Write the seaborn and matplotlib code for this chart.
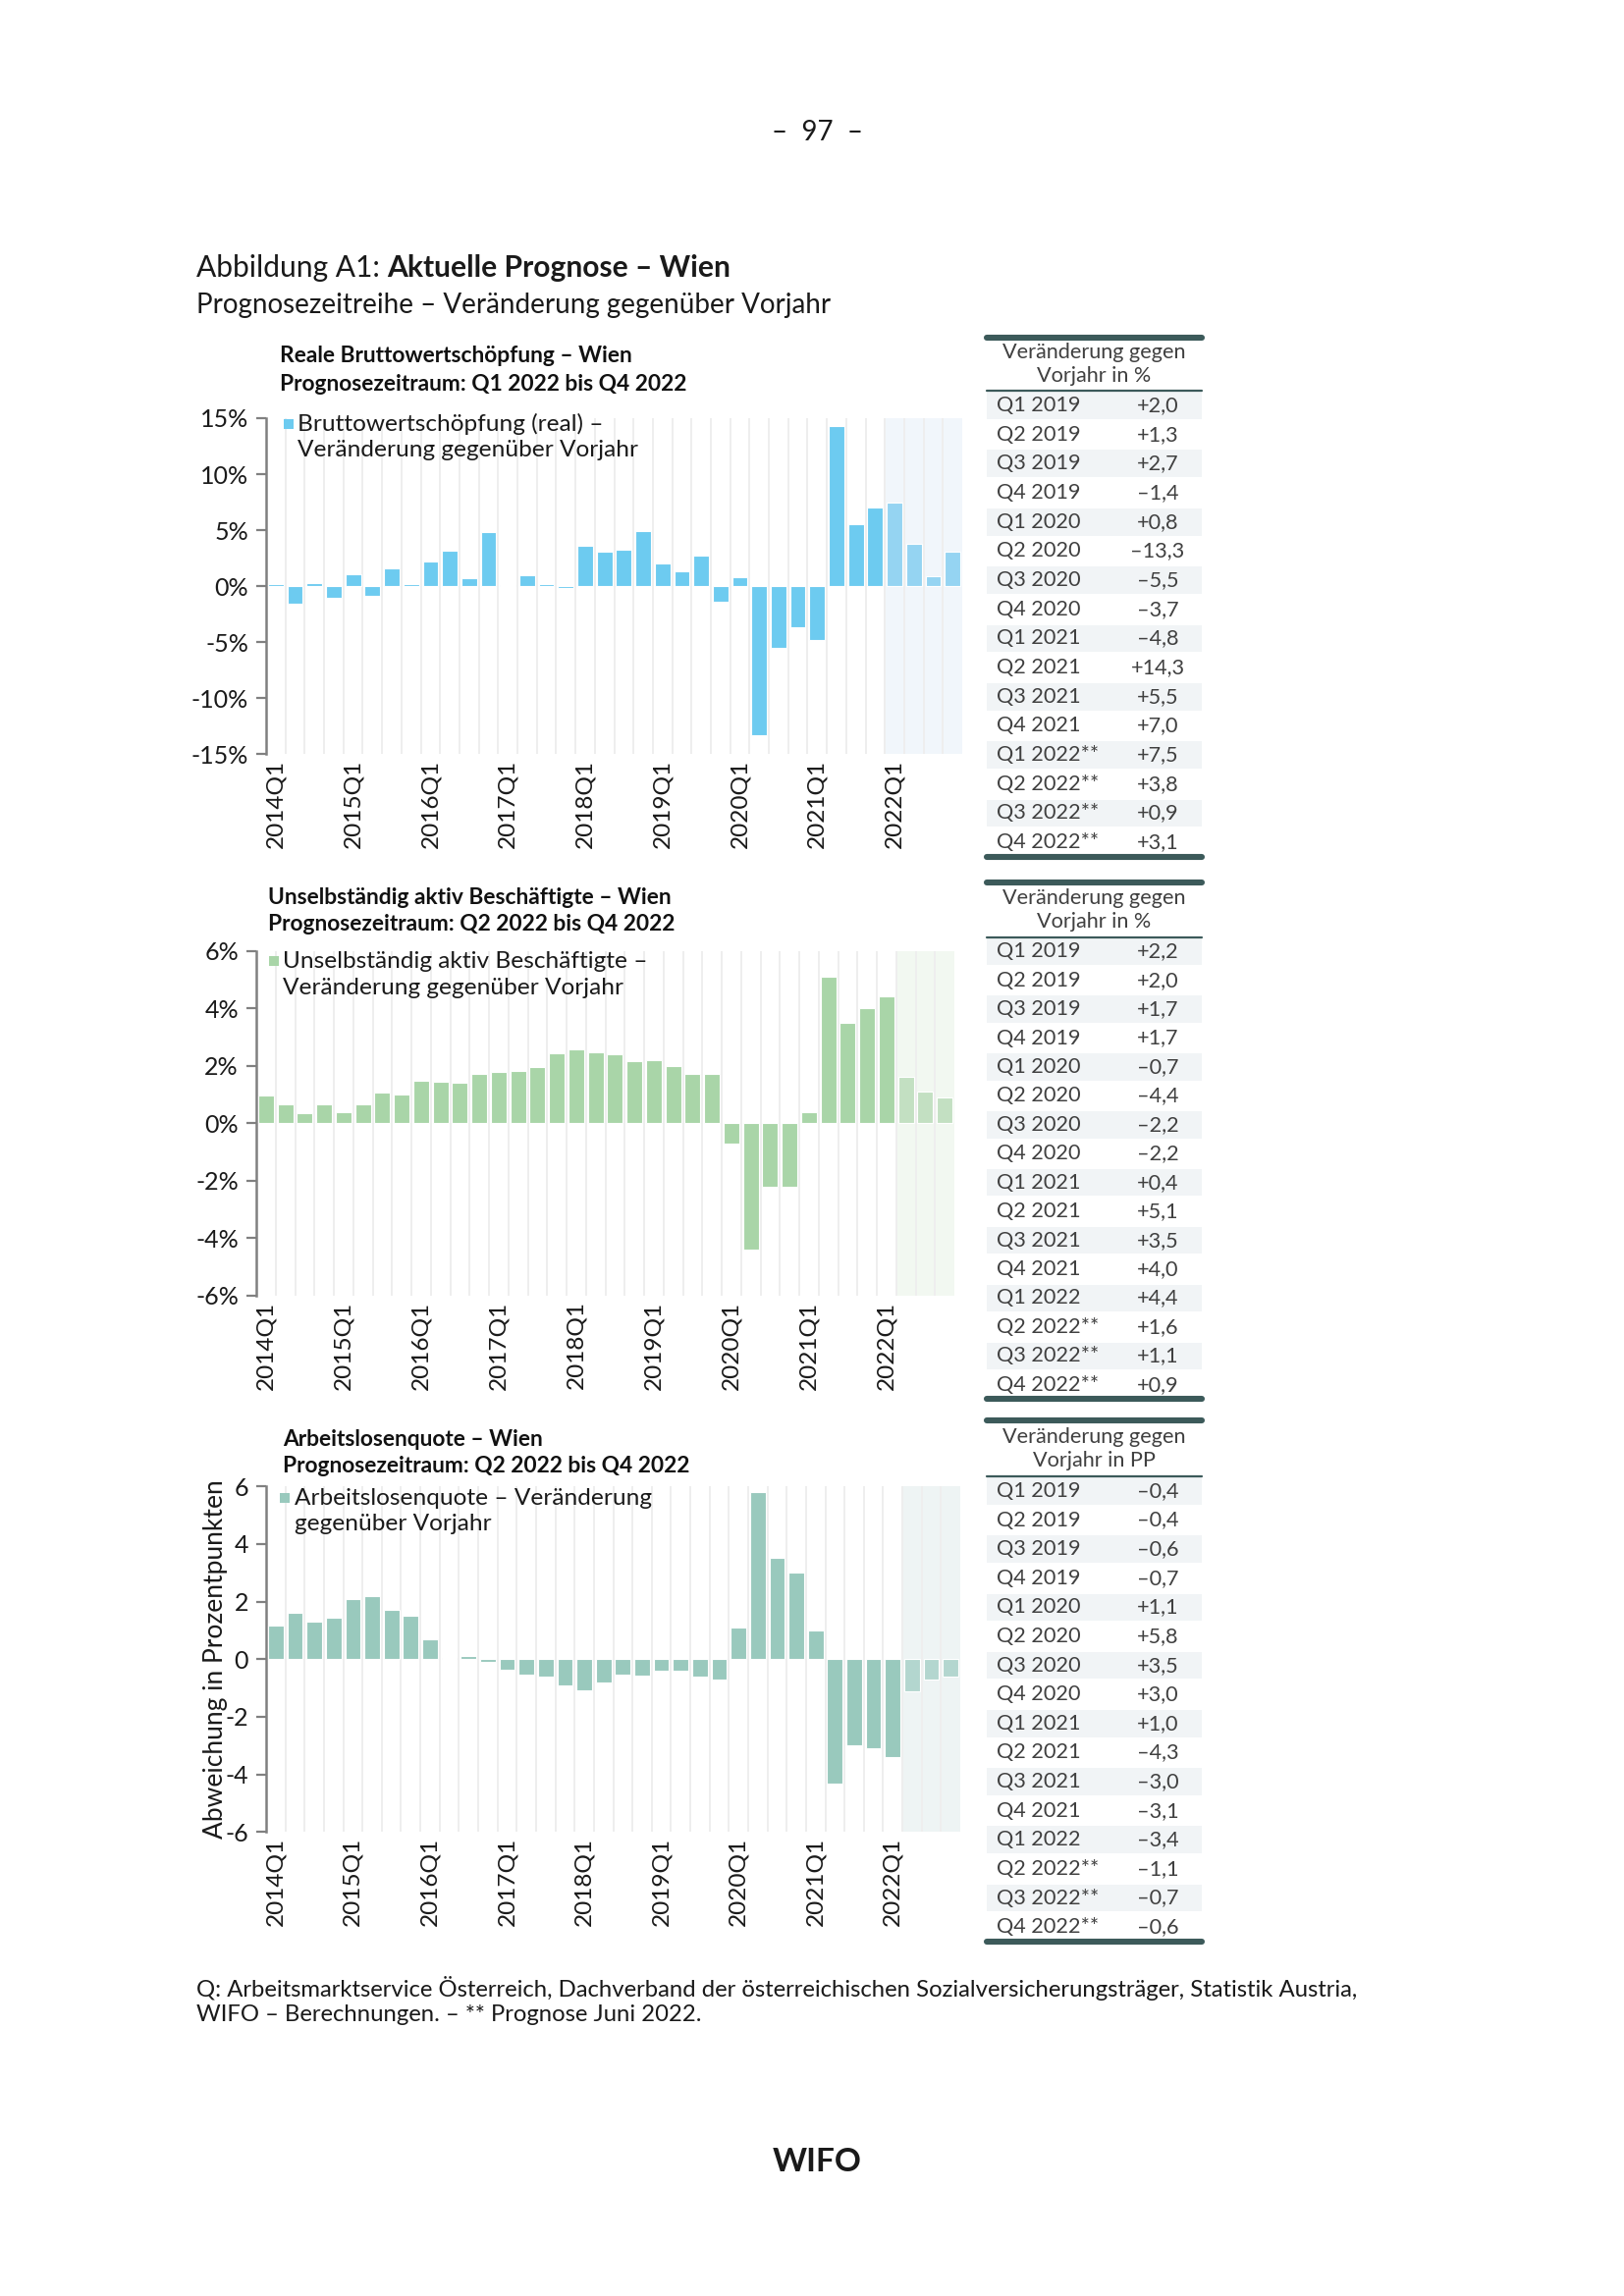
import matplotlib
matplotlib.use("Agg")
import matplotlib.pyplot as plt
import seaborn as sns
import numpy as np
import pandas as pd
from matplotlib.patches import Rectangle
from matplotlib.lines import Line2D

# --- data -----------------------------------------------------------------
quarters = [f"{y}Q{q}" for y in range(2014, 2023) for q in range(1, 5)]
tick_labels = ["2014Q1", "2015Q1", "2016Q1", "2017Q1", "2018Q1",
               "2019Q1", "2020Q1", "2021Q1", "2022Q1"]

bws = [0.2, -1.6, 0.3, -1.0, 1.1, -0.85, 1.6, 0.15,
       2.2, 3.2, 0.7, 4.8, 0.1, 0.95, 0.2, -0.2,
       3.6, 3.1, 3.3, 4.9, 2.0, 1.3, 2.7, -1.4,
       0.8, -13.3, -5.5, -3.7, -4.8, 14.3, 5.5, 7.0,
       7.5, 3.8, 0.9, 3.1]

besch = [0.97, 0.66, 0.36, 0.67, 0.37, 0.67, 1.08, 1.0,
         1.47, 1.44, 1.4, 1.72, 1.8, 1.82, 1.94, 2.42,
         2.58, 2.48, 2.4, 2.15, 2.2, 2.0, 1.7, 1.7,
         -0.7, -4.4, -2.2, -2.2, 0.4, 5.1, 3.5, 4.0,
         4.4, 1.6, 1.1, 0.9]

alq = [1.17, 1.6, 1.3, 1.45, 2.1, 2.18, 1.7, 1.52,
       0.7, 0.04, 0.1, -0.1, -0.37, -0.55, -0.6, -0.9,
       -1.07, -0.82, -0.55, -0.57, -0.4, -0.4, -0.6, -0.7,
       1.1, 5.8, 3.5, 3.0, 1.0, -4.3, -3.0, -3.1,
       -3.4, -1.1, -0.7, -0.6]

table_rows = ["Q1 2019", "Q2 2019", "Q3 2019", "Q4 2019",
              "Q1 2020", "Q2 2020", "Q3 2020", "Q4 2020",
              "Q1 2021", "Q2 2021", "Q3 2021", "Q4 2021",
              "Q1 2022", "Q2 2022", "Q3 2022", "Q4 2022"]

# --- style ----------------------------------------------------------------
sns.set_theme(style="white")
plt.rcParams["font.family"] = ["Lato", "DejaVu Sans"]

W, H = 1654, 2339
fig = plt.figure(figsize=(W / 200, H / 200), dpi=200)
fig.patch.set_facecolor("white")
TXT = "#1a1a1a"


def fx(px):
    return px / W


def fy(py):
    # small vertical squeeze so the lower blocks sit where the page has them
    py = py - (py - 200) * 0.0045
    return 1 - py / H


def add_axes(left, right, top, bottom):
    return fig.add_axes([fx(left), fy(bottom), fx(right - left), fy(top) - fy(bottom)])


def bar_chart(ax, values, first_fc, col, col_fc, shade, ylim, yticks, ylabels):
    n = len(values)
    colors = [col if i < first_fc else col_fc for i in range(n)]
    df = pd.DataFrame({"quarter": quarters, "value": values})
    ax.axvspan(first_fc - 0.5, n - 0.5, color=shade, lw=0, zorder=0)
    sns.barplot(data=df, x="quarter", y="value", hue="quarter", palette=colors,
                legend=False, saturation=1, width=0.8, ax=ax,
                edgecolor="white", linewidth=0.4, zorder=3)
    ax.set_xlim(-0.5, n - 0.5)
    ax.set_ylim(*ylim)
    ax.set_xticks(np.arange(0.5, n - 1, 1), minor=True)
    ax.grid(axis="x", which="minor", color="#EEEEEE", lw=0.7, zorder=1)
    ax.grid(axis="y", visible=False)
    ax.set_xticks([quarters.index(t) for t in tick_labels])
    ax.set_xticklabels(tick_labels, rotation=90, fontsize=8.8, color=TXT)
    ax.set_yticks(yticks)
    ax.set_yticklabels(ylabels, fontsize=9, color=TXT)
    ax.tick_params(axis="x", which="both", length=0, pad=2)
    ax.tick_params(axis="y", length=3.5, width=0.8, color="#808080", pad=3, left=True)
    for s in ["top", "right", "bottom"]:
        ax.spines[s].set_visible(False)
    ax.spines["left"].set_color("#808080")
    ax.spines["left"].set_linewidth(0.9)
    ax.set_xlabel("")
    ax.set_ylabel("")
    ax.set_facecolor("none")


def legend_box(sq_x, text_x, y1, y2, col, lines):
    # square key + two text lines, key aligned with the first line
    fig.add_artist(Rectangle((fx(sq_x), fy(y1 + 5)), fx(10), 10 / H,
                             facecolor=col, edgecolor="none"))
    fig.text(fx(text_x), fy(y1), lines[0], ha="left", va="center", fontsize=8.8, color=TXT)
    fig.text(fx(text_x), fy(y2), lines[1], ha="left", va="center", fontsize=8.8, color=TXT)


def fmt(v):
    s = f"{abs(v):.1f}".replace(".", ",")
    return ("+" if v >= 0 else "\u2013") + s


def draw_table(top, head_line, bottom, header, values, first_fc):
    x0, x1 = 1005, 1224
    tc = "#404040"
    dark = "#3C5A5A"
    fig.add_artist(Line2D([fx(x0), fx(x1)], [fy(top), fy(top)], color=dark, lw=2.2))
    fig.add_artist(Line2D([fx(x0), fx(x1)], [fy(head_line), fy(head_line)], color=dark, lw=0.8))
    fig.add_artist(Line2D([fx(x0), fx(x1)], [fy(bottom), fy(bottom)], color=dark, lw=2.2))
    hy = (top + head_line) / 2
    fig.text(fx((x0 + x1) / 2), fy(hy - 12), header[0], ha="center", va="center",
             fontsize=7.8, color=tc)
    fig.text(fx((x0 + x1) / 2), fy(hy + 12), header[1], ha="center", va="center",
             fontsize=7.8, color=tc)
    rh = (bottom - head_line) / len(table_rows)
    vals = values[-len(table_rows):]
    for i, (lab, v) in enumerate(zip(table_rows, vals)):
        ry = head_line + i * rh
        if i % 2 == 0:
            fig.add_artist(Rectangle((fx(x0), fy(ry + rh - 1)), fx(x1 - x0),
                                     fy(ry + 1) - fy(ry + rh - 1),
                                     facecolor="#F1F4F6", edgecolor="none"))
        stars = "**" if i >= first_fc else ""
        fig.text(fx(x0 + 10), fy(ry + rh / 2), lab + stars, ha="left", va="center",
                 fontsize=7.8, color=tc)
        fig.text(fx(1179), fy(ry + rh / 2), fmt(v), ha="center", va="center",
                 fontsize=7.8, color=tc)


def chart_title(x, y1, y2, line1, line2):
    fig.text(fx(x), fy(y1), line1, fontsize=8.2, fontweight="bold", va="center",
             color="#111111")
    fig.text(fx(x), fy(y2), line2, fontsize=8.2, fontweight="bold", va="center",
             color="#111111")


# --- page header ------------------------------------------------------------
fig.text(fx(832), fy(135), "\u2013  97  \u2013", ha="center", va="center", fontsize=10,
         color=TXT)
t1 = fig.text(fx(200), fy(273), "Abbildung A1: ", ha="left", va="center", fontsize=10.8,
              color=TXT)
fig.canvas.draw()
bb = t1.get_window_extent(fig.canvas.get_renderer())
fig.text(bb.x1 / W, fy(273), "Aktuelle Prognose \u2013 Wien", ha="left", va="center",
         fontsize=10.8, fontweight="bold", color=TXT)
fig.text(fx(200), fy(312), "Prognosezeitreihe \u2013 Ver\u00e4nderung gegen\u00fcber Vorjahr",
         ha="left", va="center", fontsize=10.0, color=TXT)

# --- chart 1 ------------------------------------------------------------------
chart_title(285, 363, 392, "Reale Bruttowertsch\u00f6pfung \u2013 Wien",
            "Prognosezeitraum: Q1 2022 bis Q4 2022")
ax1 = add_axes(271, 980, 427, 771)
bar_chart(ax1, bws, 32, "#6DCBF0", "#95D4F2", "#F1F6FB", (-15, 15),
          [15, 10, 5, 0, -5, -10, -15],
          ["15%", "10%", "5%", "0%", "-5%", "-10%", "-15%"])
legend_box(289, 303, 433, 460, "#6DCBF0",
           ["Bruttowertsch\u00f6pfung (real) \u2013", "Ver\u00e4nderung gegen\u00fcber Vorjahr"])
draw_table(345, 399, 876, ["Ver\u00e4nderung gegen", "Vorjahr in %"], bws, 12)

# --- chart 2 ------------------------------------------------------------------
chart_title(273, 918, 945, "Unselbst\u00e4ndig aktiv Besch\u00e4ftigte \u2013 Wien",
            "Prognosezeitraum: Q2 2022 bis Q4 2022")
ax2 = add_axes(261, 972, 972, 1325)
bar_chart(ax2, besch, 33, "#A9D5A8", "#C3E0C2", "#F2F8F1", (-6, 6),
          [6, 4, 2, 0, -2, -4, -6],
          ["6%", "4%", "2%", "0%", "-2%", "-4%", "-6%"])
legend_box(274, 288, 983, 1010, "#A9D5A8",
           ["Unselbst\u00e4ndig aktiv Besch\u00e4ftigte \u2013", "Ver\u00e4nderung gegen\u00fcber Vorjahr"])
draw_table(902, 958, 1431, ["Ver\u00e4nderung gegen", "Vorjahr in %"], besch, 13)

# --- chart 3 ------------------------------------------------------------------
chart_title(288, 1472, 1499, "Arbeitslosenquote \u2013 Wien",
            "Prognosezeitraum: Q2 2022 bis Q4 2022")
ax3 = add_axes(271, 978, 1520, 1874)
bar_chart(ax3, alq, 33, "#99C9BD", "#B3D6CF", "#EEF4F4", (-6, 6),
          [6, 4, 2, 0, -2, -4, -6],
          ["6", "4", "2", "0", "-2", "-4", "-6"])
legend_box(285, 300, 1532, 1559, "#99C9BD",
           ["Arbeitslosenquote \u2013 Ver\u00e4nderung", "gegen\u00fcber Vorjahr"])
ax3.set_ylabel("Abweichung in Prozentpunkten", fontsize=9.5, color=TXT)
ax3.yaxis.set_label_coords((232 - 271) / (978 - 271), 0.5)
draw_table(1453, 1510, 1986, ["Ver\u00e4nderung gegen", "Vorjahr in PP"], alq, 13)

# --- footer -----------------------------------------------------------------
fig.text(fx(200), fy(2034),
         "Q: Arbeitsmarktservice \u00d6sterreich, Dachverband der \u00f6sterreichischen "
         "Sozialversicherungstr\u00e4ger, Statistik Austria,",
         ha="left", va="center", fontsize=8.6, color=TXT)
fig.text(fx(200), fy(2061), "WIFO \u2013 Berechnungen. \u2013 ** Prognose Juni 2022.",
         ha="left", va="center", fontsize=8.6, color=TXT)
fig.text(fx(832), fy(2212), "WIFO", ha="center", va="center", fontsize=12,
         fontweight="bold", color=TXT)

fig.savefig("out.png", dpi=200, facecolor="white")
